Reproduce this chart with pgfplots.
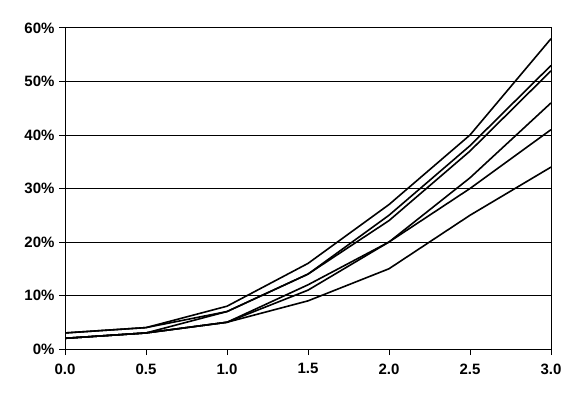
\documentclass[border=0pt]{standalone}
\usepackage{pgfplots}
\pgfplotsset{compat=1.18}
\usepackage{fontspec}
\setmainfont{Liberation Sans}
\tikzset{ln/.style={black, solid, line width=1.6bp, mark=none}}
\begin{document}
\begin{tikzpicture}[x=1bp,y=1bp]
\path[use as bounding box] (0,0) rectangle (579,403);
\begin{axis}[
  at={(65bp,54bp)}, anchor=south west,
  scale only axis, width=486bp, height=321bp,
  xmin=0, xmax=3, ymin=0, ymax=60,
  xtick={0,0.5,...,3}, ytick={0,10,...,60},
  xticklabel={\pgfmathprintnumber[fixed,fixed zerofill,precision=1]{\tick}},
  yticklabel={\pgfmathprintnumber{\tick}\%},
  /pgf/number format/assume math mode=true,
  ticklabel style={font=\fontsize{15bp}{17bp}\selectfont\bfseries},
  tick align=outside, major tick length=6bp,
  tick style={black, line width=1bp},
  axis line style={black, line width=1bp},
  ymajorgrids, grid style={black, line width=1bp},
  xtick pos=bottom, ytick pos=left,
  xticklabel style={yshift=-5bp},
  yticklabel style={xshift=-1bp},
]
\addplot[ln] coordinates {(0,3) (0.5,4) (1,8) (1.5,16) (2,27) (2.5,40) (3,58)};
\addplot[ln] coordinates {(0,3) (0.5,4) (1,7) (1.5,14) (2,25) (2.5,38) (3,53)};
\addplot[ln] coordinates {(0,2) (0.5,3) (1,7) (1.5,14) (2,24) (2.5,37) (3,52)};
\addplot[ln] coordinates {(0,2) (0.5,3) (1,5) (1.5,12) (2,20) (2.5,32) (3,46)};
\addplot[ln] coordinates {(0,2) (0.5,3) (1,5) (1.5,11) (2,20) (2.5,30) (3,41)};
\addplot[ln] coordinates {(0,2) (0.5,3) (1,5) (1.5,9) (2,15) (2.5,25) (3,34)};
\end{axis}
\end{tikzpicture}
\end{document}
